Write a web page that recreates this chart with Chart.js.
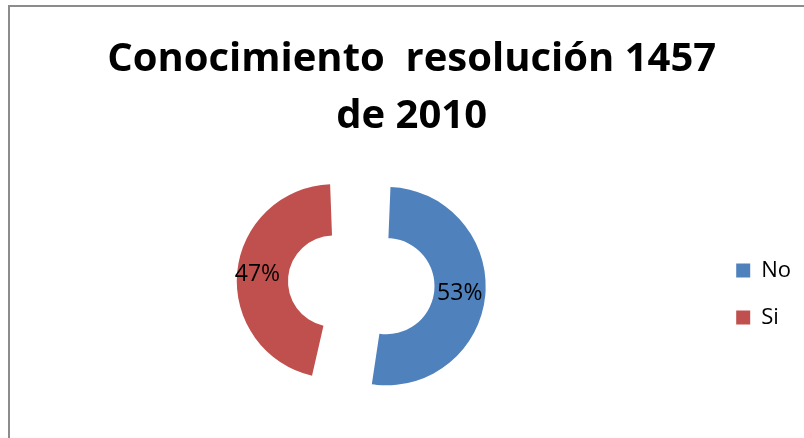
<!DOCTYPE html>
<html>
<head>
<meta charset="utf-8">
<script src="https://cdn.jsdelivr.net/npm/chart.js@4/dist/chart.umd.min.js"></script>
<style>
  html, body { margin: 0; padding: 0; background: #fff; overflow: hidden; }
  #wrap { position: absolute; left: 0; top: 0; width: 824px; height: 438px; }
  #frame { position: absolute; left: 8px; top: 5px; width: 900px; height: 500px;
           border-left: 2px solid #8c8c8c; border-top: 2px solid #8c8c8c; pointer-events: none; }
</style>
</head>
<body>
<div id="wrap"><canvas id="chart"></canvas></div>
<div id="frame"></div>
<script>
// --- datos del gráfico ---
const categories = ['No', 'Si'];
const values = [53, 47];
const sliceColors = ['#4F81BD', '#C0504D'];
// un espacio inicial desplaza el título un poco a la derecha, como en el original
const chartTitle = [' Conocimiento  resolución 1457', ' de 2010'];

// etiquetas de porcentaje dentro de cada porción
const percentLabels = {
    id: 'percentLabels',
    afterDatasetsDraw(chart) {
        const ctx = chart.ctx;
        const meta = chart.getDatasetMeta(0);
        const total = values.reduce((a, b) => a + b, 0);
        ctx.save();
        ctx.font = '23px "Open Sans"';
        ctx.fillStyle = '#000';
        ctx.textAlign = 'center';
        ctx.textBaseline = 'middle';
        meta.data.forEach((arc, i) => {
            const pos = arc.tooltipPosition();
            const pct = Math.round(values[i] / total * 100) + '%';
            ctx.fillText(pct, pos.x, pos.y);
        });
        ctx.restore();
    }
};

new Chart(document.getElementById('chart'), {
    type: 'doughnut',
    data: {
        labels: categories,
        datasets: [{
            data: values,
            backgroundColor: sliceColors,
            borderWidth: 0,
            // porciones separadas (la roja algo más, para que quede del mismo tamaño)
            offset: [100, 112]
        }]
    },
    options: {
        responsive: true,
        maintainAspectRatio: false,
        animation: false,
        cutout: '31%',
        layout: { padding: { top: 0, bottom: 24, left: 12, right: 23 } },
        plugins: {
            title: {
                display: true,
                text: chartTitle,
                color: '#000',
                font: { family: 'Open Sans', size: 40, weight: 'bold', lineHeight: 1.42 },
                padding: { top: 31, bottom: 9 }
            },
            legend: {
                position: 'right',
                fullSize: false,
                title: { display: true, text: '', padding: { top: 3, bottom: 3 } },
                labels: {
                    color: '#000',
                    boxWidth: 14,
                    boxHeight: 14,
                    padding: 25,
                    font: { family: 'Open Sans', size: 22 }
                }
            },
            tooltip: { enabled: false }
        }
    },
    plugins: [percentLabels]
});
</script>
</body>
</html>
